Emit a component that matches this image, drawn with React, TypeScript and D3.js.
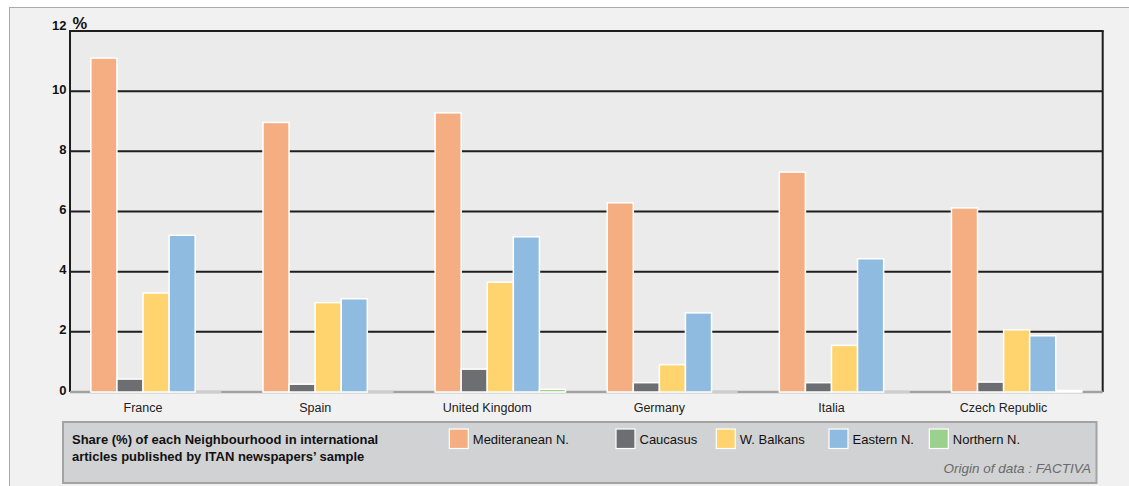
import * as d3 from 'd3'

// Share (%) per neighbourhood
const countries = ['France', 'Spain', 'United Kingdom', 'Germany', 'Italia', 'Czech Republic']
const seriesNames = ['Mediteranean N.', 'Caucasus', 'W. Balkans', 'Eastern N.', 'Northern N.']
const mediterranean = [11.1, 8.96, 9.28, 6.29, 7.31, 6.12]
const caucasus = [0.43, 0.26, 0.76, 0.31, 0.31, 0.33]
const wBalkans = [3.29, 2.97, 3.65, 0.91, 1.55, 2.07]
const easternN = [5.21, 3.1, 5.16, 2.63, 4.43, 1.87]
const northernN = [0, 0, 0.09, 0, 0, 0.05]
const yTicks = [0, 2, 4, 6, 8, 10]
const colors = ['#f4ae82', '#6d6e71', '#ffd46e', '#8fbbe0', '#9bd08f']

const values = [mediterranean, caucasus, wBalkans, easternN, northernN]
const font = '"Liberation Sans", Arial, sans-serif'

export default function App() {
  const width = 1129
  const height = 486
  const plot = { left: 70, right: 1102.7, top: 31, bottom: 392 }

  const x0 = d3.scaleBand<string>()
    .domain(countries)
    .range([plot.left, plot.right])
  const x1 = d3.scaleBand<string>()
    .domain(seriesNames)
    .range([0, x0.bandwidth()])
    .paddingOuter(0.8)
  const y = d3.scaleLinear().domain([0, 12]).range([plot.bottom, plot.top])

  const legendX = [449.3, 616, 716.3, 829, 929.3]

  return (
    <svg width={width} height={height} style={{ position: 'absolute', left: 0, top: 0 }} fontFamily={font}>
      <rect x={0} y={0} width={width} height={height} fill="#fff" />
      <rect x={9.5} y={7.5} width={width + 10} height={height + 10} fill="#f1f1f1" stroke="#a9a9a9" />

      {/* plot background */}
      <rect x={plot.left} y={plot.top} width={plot.right - plot.left} height={plot.bottom - plot.top} fill="#ebebeb" />

      {/* gridlines */}
      {yTicks.filter(t => t > 0).map(t => (
        <line key={t} x1={plot.left} x2={plot.right} y1={y(t)} y2={y(t)} stroke="#1e1e1e" strokeWidth={2} />
      ))}
      <line x1={plot.left - 1} x2={plot.right + 1} y1={plot.top} y2={plot.top} stroke="#1e1e1e" strokeWidth={2} />
      <line x1={plot.left} x2={plot.left} y1={plot.top} y2={plot.bottom} stroke="#1e1e1e" strokeWidth={2} />
      <line x1={plot.right} x2={plot.right} y1={plot.top} y2={plot.bottom} stroke="#1e1e1e" strokeWidth={2} />

      {/* baseline */}
      <line x1={plot.left} x2={plot.right} y1={plot.bottom} y2={plot.bottom} stroke="#a2a2a2" strokeWidth={2.5} />
      {countries.map(c => (
        <line key={c}
          x1={(x0(c) ?? 0) + (x1(seriesNames[0]) ?? 0)}
          x2={(x0(c) ?? 0) + (x1(seriesNames[4]) ?? 0) + x1.bandwidth()}
          y1={plot.bottom} y2={plot.bottom} stroke="#cdcdcd" strokeWidth={2.5} />
      ))}

      {/* bars */}
      {countries.map((c, ci) => (
        <g key={c} transform={`translate(${x0(c)},0)`}>
          {seriesNames.map((s, si) => {
            const v = values[si][ci]
            if (v <= 0) return null
            return (
              <rect key={s}
                x={x1(s)}
                y={y(v)}
                width={x1.bandwidth()}
                height={plot.bottom - y(v)}
                fill={colors[si]}
                stroke="#fff"
                strokeWidth={1.5} />
            )
          })}
        </g>
      ))}

      {/* y tick labels */}
      {yTicks.map(t => (
        <text key={t} x={66.5} y={y(t) + 2.5} textAnchor="end" fontSize={13} fontWeight="bold" fill="#111">{t}</text>
      ))}
      <text x={66.5} y={30} textAnchor="end" fontSize={13} fontWeight="bold" fill="#111">12</text>
      <text x={72.5} y={28.5} fontSize={16.5} fontWeight="bold" fill="#111">%</text>

      {/* x labels */}
      {countries.map(c => (
        <text key={c}
          x={(x0(c) ?? 0) + x0.bandwidth() / 2 - x1.bandwidth() / 2}
          y={411.5} textAnchor="middle" fontSize={12.5} fill="#222">{c}</text>
      ))}

      {/* legend box */}
      <rect x={63} y={422} width={1033.5} height={61} fill="#d1d2d4" stroke="#a3a3a3" strokeWidth={2} />
      <text x={72} y={444} fontSize={13} fontWeight="bold" fill="#111">Share (%) of each Neighbourhood in international</text>
      <text x={72} y={460.5} fontSize={13} fontWeight="bold" fill="#111">articles published by ITAN newspapers’ sample</text>
      {seriesNames.map((s, i) => (
        <g key={s}>
          <rect x={legendX[i]} y={429} width={19} height={19.5} fill={colors[i]} stroke="#fff" strokeWidth={1.2} />
          <text x={legendX[i] + 23.5} y={443.5} fontSize={13} fill="#111">{s}</text>
        </g>
      ))}
      <text x={1091} y={473} textAnchor="end" fontSize={13.5} fontStyle="italic" fill="#6a6a6a">Origin of data : FACTIVA</text>
    </svg>
  )
}
